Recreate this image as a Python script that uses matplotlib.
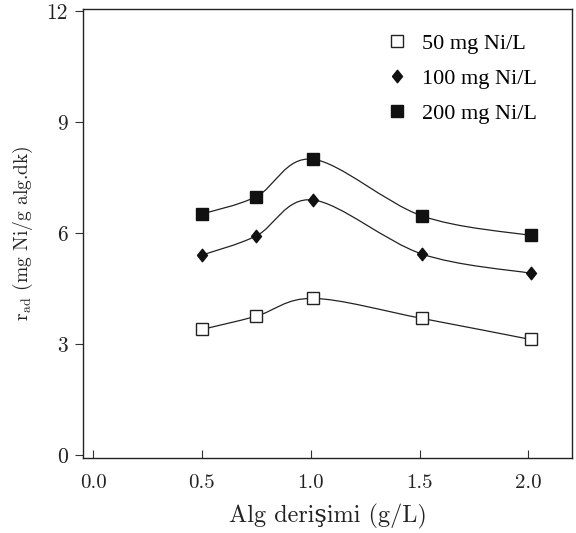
import numpy as np
import matplotlib
matplotlib.use("Agg")
import matplotlib.pyplot as plt
from matplotlib.path import Path
from matplotlib.patches import PathPatch

plt.rcParams['font.family'] = ['cmr10', 'DejaVu Serif']
plt.rcParams['mathtext.fontset'] = 'cm'
plt.rcParams['axes.formatter.use_mathtext'] = True

# data
x = [0.50, 0.75, 1.01, 1.51, 2.01]
y50 = [3.40, 3.76, 4.24, 3.70, 3.13]
y100 = [5.41, 5.93, 6.90, 5.44, 4.92]
y200 = [6.52, 6.99, 8.00, 6.47, 5.94]
labels = ['50 mg Ni/L', '100 mg Ni/L', '200 mg Ni/L']

xticks = [0.0, 0.5, 1.0, 1.5, 2.0]
yticks = [0, 3, 6, 9, 12]


def smooth_path(xs, ys):
    # catmull-rom through the points, drawn as cubic beziers
    p = np.column_stack([xs, ys])
    n = len(p)
    verts = [p[0]]
    codes = [Path.MOVETO]
    for i in range(n - 1):
        p0 = p[i - 1] if i > 0 else p[i]
        p1, p2 = p[i], p[i + 1]
        p3 = p[i + 2] if i + 2 < n else p[i + 1]
        c1 = p1 + (p2 - p0) / 6.0
        c2 = p2 - (p3 - p1) / 6.0
        verts += [c1, c2, p2]
        codes += [Path.CURVE4] * 3
    return Path(verts, codes)


fig = plt.figure(figsize=(5.76, 5.33), dpi=100)
ax = fig.add_axes([0.1446, 0.1413, 0.8484, 0.8418])

diamond = [(-0.8, 0), (0, 1), (0.8, 0), (0, -1), (-0.8, 0)]
styles = [
    (y50, dict(marker='s', mfc='white', mec='#222222', ms=8, mew=1.0)),
    (y100, dict(marker=diamond, mfc='#111111', mec='#111111', ms=9)),
    (y200, dict(marker='s', mfc='#111111', mec='#111111', ms=8.5)),
]

for (ys, st), lab in zip(styles, labels):
    ax.add_patch(PathPatch(smooth_path(x, ys), fc='none', ec='#222222', lw=0.9, zorder=2))
    ax.plot(x, ys, ls='none', label=lab, zorder=3, **st)

ax.set_xlim(-0.045, 2.2)
ax.set_ylim(-0.065, 12.06)
ax.set_xticks(xticks)
ax.set_xticklabels(['%.1f' % v for v in xticks])
ax.set_yticks(yticks)
ax.set_yticklabels([str(v) for v in yticks])
ax.tick_params(axis='x', direction='in', length=6, width=0.8, labelsize=15, pad=12, colors='#333333', labelcolor='#222222')
ax.tick_params(axis='y', direction='out', length=6, width=0.8, labelsize=15.5, pad=5, colors='#333333', labelcolor='#222222')
for s in ax.spines.values():
    s.set_linewidth(1.0)
    s.set_color('#222222')

ax.set_xlabel('Alg derişimi (g/L)', fontsize=17.5, labelpad=8, color='#222222')
ax.set_ylabel(r'r$_{\mathrm{ad}}$ (mg Ni/g alg.dk)', fontsize=14, labelpad=8, color='#222222')

leg = ax.legend(loc='upper left', bbox_to_anchor=(0.578, 0.99), frameon=False,
                prop={'family': ['Liberation Serif'], 'size': 16},
                handlelength=1.0, handletextpad=0.65, labelspacing=0.65, numpoints=1)

fig.savefig('out.png', dpi=100)
